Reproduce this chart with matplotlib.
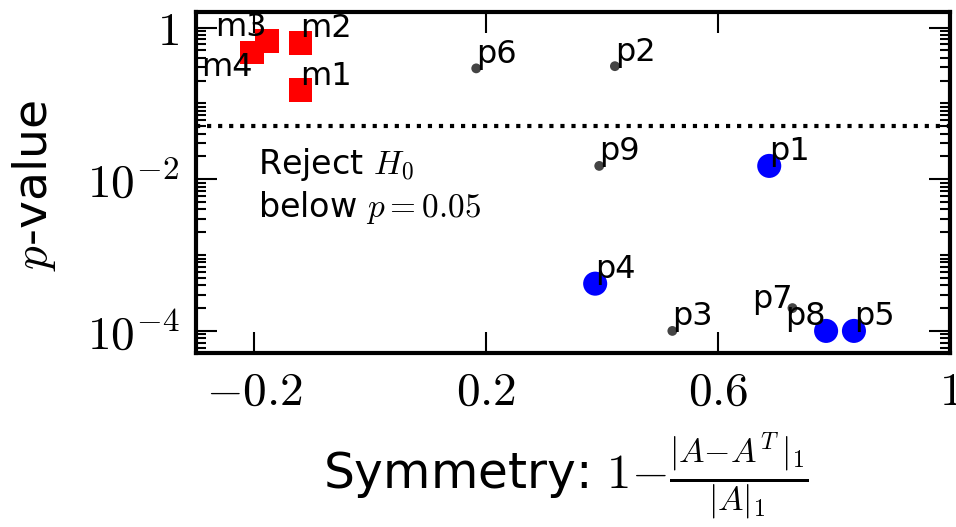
import numpy as np
import matplotlib
matplotlib.use("Agg")
import matplotlib.pyplot as plt
from matplotlib.ticker import LogLocator, NullFormatter, FixedLocator

plt.rcParams['mathtext.fontset'] = 'cm'
plt.rcParams['font.family'] = 'DejaVu Sans'

# Datos
m_names = ['m1', 'm2', 'm3', 'm4']
m_sym = [-0.12, -0.12, -0.178, -0.203]
m_pval = [0.15, 0.63, 0.66, 0.47]

sig_names = ['p1', 'p4', 'p5', 'p8']
sig_sym = [0.688, 0.388, 0.834, 0.786]
sig_pval = [0.015, 0.00042, 0.0001, 0.0001]

ns_names = ['p2', 'p3', 'p6', 'p7', 'p9']
ns_sym = [0.422, 0.521, 0.183, 0.728, 0.395]
ns_pval = [0.31, 0.0001, 0.29, 0.0002, 0.015]

alpha = 0.05
y_ticks = [1e-4, 1e-2, 1]
y_ticklabels = [r'$10^{-4}$', r'$10^{-2}$', r'$1$']
x_ticks = [-0.2, 0.2, 0.6, 1.0]
x_ticklabels = [r'$-0.2$', r'$0.2$', r'$0.6$', r'$1$']

# etiquetas alineadas a la derecha
right_labels = ['m3', 'm4', 'p7', 'p8']
label_dy = {'m4': -21, 'p7': -4}

fig = plt.figure(figsize=(9.56, 5.27), dpi=100)
ax = fig.add_axes([0.205, 0.33, 0.789, 0.647])

ax.scatter(m_sym, m_pval, s=290, marker='s', color='r', edgecolors='none', zorder=3)
ax.scatter(sig_sym, sig_pval, s=300, marker='o', color='b', edgecolors='none', zorder=3)
ax.scatter(ns_sym, ns_pval, s=50, marker='o', color='#444444', edgecolors='none', zorder=3)
ax.axhline(alpha, color='k', linestyle=':', linewidth=3)

for names, xs, ys in [(m_names, m_sym, m_pval), (sig_names, sig_sym, sig_pval), (ns_names, ns_sym, ns_pval)]:
    for n, x, y in zip(names, xs, ys):
        ha = 'right' if n in right_labels else 'left'
        ax.annotate(n, (x, y), xytext=(0, 4 + label_dy.get(n, 0)), textcoords='offset points',
                    ha=ha, va='baseline', fontsize=23, zorder=4)

ax.text(0.082, 0.49, 'Reject $H_0$\nbelow $p{=}0.05$', transform=ax.transAxes,
        ha='left', va='center', fontsize=24, linespacing=1.2)

ax.set_yscale('log')
ax.set_xlim(-0.3, 1.0)
ax.set_ylim(5.1e-5, 1.6)
ax.yaxis.set_major_locator(FixedLocator(y_ticks))
ax.set_yticklabels(y_ticklabels)
ax.yaxis.set_minor_locator(LogLocator(base=10, subs=np.arange(1, 10), numticks=20))
ax.yaxis.set_minor_formatter(NullFormatter())
ax.set_xticks(x_ticks)
ax.set_xticklabels(x_ticklabels)

ax.tick_params(which='both', direction='in', top=True, right=True, labelsize=34, width=1.5)
ax.tick_params(which='major', length=15, pad=12)
ax.tick_params(which='minor', length=7)
for s in ax.spines.values():
    s.set_linewidth(3)

ax.set_ylabel('$p$-value', fontsize=34)
ax.yaxis.set_label_coords(-0.183, 0.493)
ax.set_xlabel(r'Symmetry: $1{-}\frac{|A{-}A^T\,|_1}{|A|_1}$', fontsize=35)
ax.xaxis.set_label_coords(0.49, -0.226)

plt.savefig('out.png', dpi=100)
